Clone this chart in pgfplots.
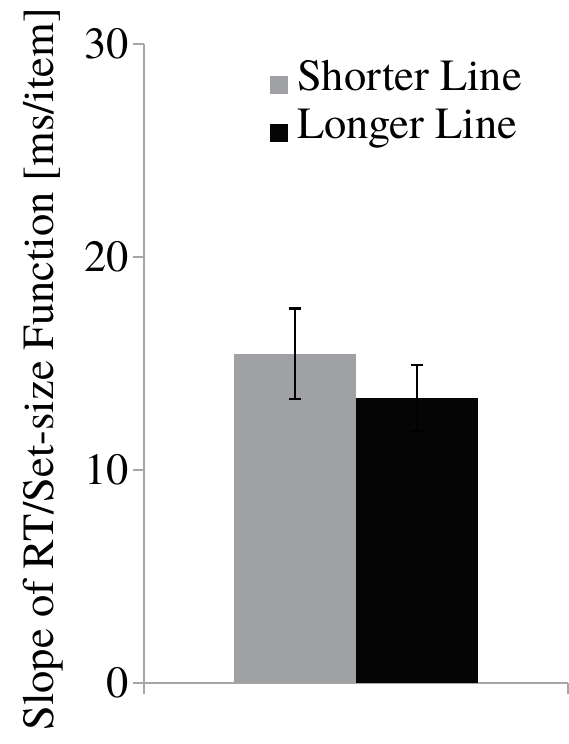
\documentclass[border=0pt]{standalone}
\usepackage{fontspec}
\setmainfont{TeX Gyre Termes}
\usepackage{pgfplots}
\pgfplotsset{compat=1.18}
\definecolor{bargray}{RGB}{160,161,165}
\definecolor{barblack}{RGB}{5,5,5}
\definecolor{axgray}{RGB}{166,166,166}
\begin{document}
\begin{tikzpicture}[font=\rmfamily\fontsize{44.5}{53}\selectfont]
\path[use as bounding box] (-144pt,-61pt) rectangle (425pt,683pt);
\begin{axis}[
  at={(0pt,0pt)}, anchor=south west,
  scale only axis, width=424pt, height=639pt,
  xmin=0, xmax=1, ymin=0, ymax=30,
  axis x line=bottom, axis y line=left,
  axis line style={-, draw=axgray, line width=1.6pt},
  tick style={draw=axgray, line width=1.6pt},
  tick align=outside, major tick length=11pt,
  xtick={0,1}, xticklabels={},
  ytick={0,10,20,30},
  /pgf/number format/assume math mode=true,
  yticklabel style={inner sep=4pt, font=\rmfamily\fontsize{44.5}{53}\selectfont},
  ylabel={Slope of RT/Set-size Function [ms/item]},
  ylabel style={at={(axis description cs:-0.191,0.491)}, anchor=south, inner sep=0pt, font=\rmfamily\fontsize{44.5}{53}\selectfont},
  ybar=0pt, bar width=0.287, bar shift=0pt,
  error bars/y dir=both, error bars/y explicit,
  error bars/error mark=|,
  error bars/error bar style={line width=2.4pt, draw=black},
  error bars/error mark options={line width=2.4pt, draw=black, mark size=6pt},
  legend image code/.code={\fill[#1, draw=none] (0pt,-14pt) rectangle (18pt,4pt); \path (27pt,0pt);},
  legend style={at={(axis description cs:0.297,0.975)}, anchor=north west,
    draw=none, fill=none, inner sep=0pt, row sep=8pt,
    font=\rmfamily\fontsize{44.5}{53}\selectfont,
    nodes={inner sep=0pt, text height=30pt, text depth=10pt}},
  legend cell align=left,
]
\addplot[fill=bargray, draw=none] coordinates {(0.3565,15.46) +- (0,2.13)};
\addplot[fill=barblack, draw=none] coordinates {(0.6435,13.38) +- (0,1.55)};
\legend{Shorter Line, Longer Line}
\end{axis}
\end{tikzpicture}
\end{document}
